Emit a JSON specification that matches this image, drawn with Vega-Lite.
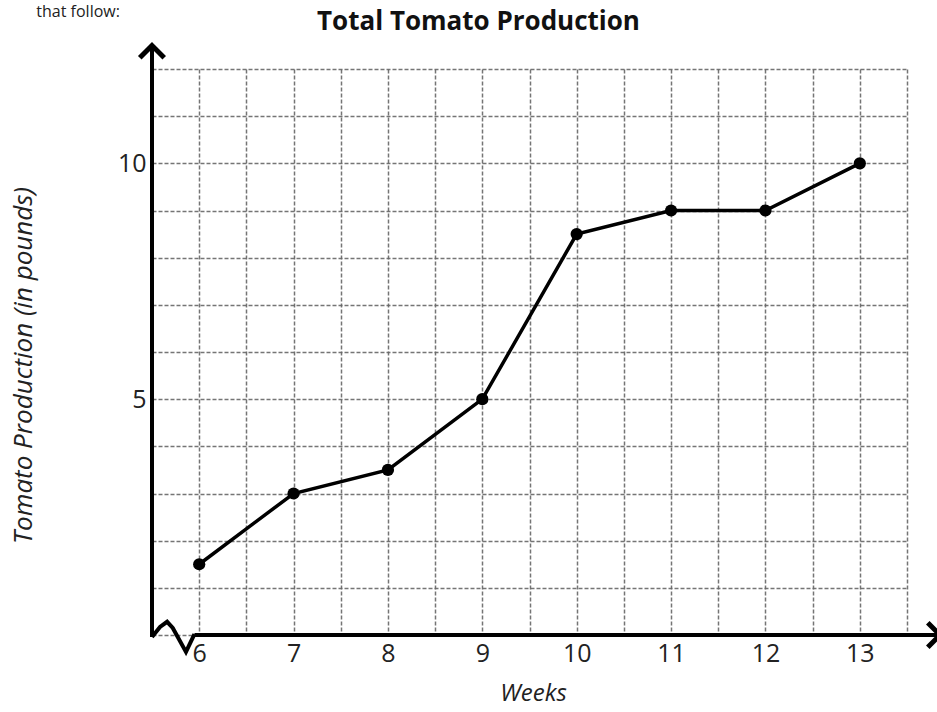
{
  "$schema": "https://vega.github.io/schema/vega-lite/v6.json",
  "autosize": "none",
  "width": 755,
  "height": 566,
  "padding": {"left": 152, "top": 69, "right": 30, "bottom": 77},
  "background": "white",
  "config": {
    "view": {"stroke": null},
    "font": "Open Sans",
    "title": {"font": "Open Sans", "fontSize": 26, "fontWeight": "bold", "color": "#111", "dx": -51, "offset": -31}
  },
  "title": "Total Tomato Production",
  "datasets": {
    "tomato": [
      {"week": 6, "pounds": 1.5},
      {"week": 7, "pounds": 3.0},
      {"week": 8, "pounds": 3.5},
      {"week": 9, "pounds": 5.0},
      {"week": 10, "pounds": 8.5},
      {"week": 11, "pounds": 9.0},
      {"week": 12, "pounds": 9.0},
      {"week": 13, "pounds": 10.0}
    ],
    "axisbreak": [
      {"order": 1, "week": 5.5, "pounds": -0.04},
      {"order": 2, "week": 5.585, "pounds": 0.17},
      {"order": 3, "week": 5.66, "pounds": 0.28},
      {"order": 4, "week": 5.72, "pounds": 0.15},
      {"order": 5, "week": 5.86, "pounds": -0.36},
      {"order": 6, "week": 5.95, "pounds": 0.02}
    ],
    "one": [{}]
  },
  "layer": [
    {
      "data": {"name": "tomato"},
      "mark": {"type": "line", "color": "black", "strokeWidth": 3.5},
      "encoding": {
        "x": {
          "field": "week", "type": "quantitative",
          "scale": {"domain": [5.5, 13.5], "nice": false, "zero": false},
          "axis": {
            "values": [5.5, 6, 6.5, 7, 7.5, 8, 8.5, 9, 9.5, 10, 10.5, 11, 11.5, 12, 12.5, 13, 13.5],
            "labelExpr": "datum.value % 1 == 0 && datum.value > 5.5 ? format(datum.value, 'd') : ''",
            "domain": false, "ticks": false,
            "grid": true, "gridColor": "#666", "gridDash": [4, 2], "gridWidth": 1.5, "gridOpacity": 0.9,
            "labelFont": "Open Sans", "labelFontSize": 25, "labelColor": "#222", "labelPadding": 6,
            "title": "Weeks", "titleFont": "Open Sans", "titleFontSize": 24, "titleFontStyle": "italic", "titleFontWeight": "normal", "titleColor": "#222",
            "titleX": 381, "titleY": 58, "titleBaseline": "middle"
          }
        },
        "y": {
          "field": "pounds", "type": "quantitative",
          "scale": {"domain": [0, 12], "nice": false},
          "axis": {
            "values": [0, 1, 2, 3, 4, 5, 6, 7, 8, 9, 10, 11, 12],
            "labelExpr": "datum.value == 5 || datum.value == 10 ? format(datum.value, 'd') : ''",
            "domain": false, "ticks": false,
            "grid": true, "gridColor": "#666", "gridDash": [4, 2], "gridWidth": 1.5, "gridOpacity": 0.9,
            "labelFont": "Open Sans", "labelFontSize": 25, "labelColor": "#222", "labelPadding": 6,
            "title": "Tomato Production (in pounds)", "titleFont": "Open Sans", "titleFontSize": 26, "titleFontStyle": "italic", "titleFontWeight": "normal", "titleColor": "#222",
            "titleX": -129, "titleY": 296, "titleBaseline": "middle", "titleAngle": -90
          }
        }
      }
    },
    {
      "data": {"name": "tomato"},
      "mark": {"type": "point", "filled": true, "color": "black", "size": 150, "opacity": 1},
      "encoding": {
        "x": {"field": "week", "type": "quantitative"},
        "y": {"field": "pounds", "type": "quantitative"}
      }
    },
    {
      "data": {"name": "axisbreak"},
      "mark": {"type": "line", "color": "black", "strokeWidth": 4, "strokeJoin": "miter"},
      "encoding": {
        "x": {"field": "week", "type": "quantitative"},
        "y": {"field": "pounds", "type": "quantitative"},
        "order": {"field": "order"}
      }
    },
    {
      "data": {"name": "one"},
      "mark": {"type": "rule", "color": "black", "strokeWidth": 4},
      "encoding": {
        "x": {"datum": 5.5},
        "y": {"datum": -0.04},
        "y2": {"datum": 12.45}
      }
    },
    {
      "data": {"name": "one"},
      "mark": {"type": "rule", "color": "black", "strokeWidth": 4},
      "encoding": {
        "x": {"datum": 5.95},
        "x2": {"datum": 13.82},
        "y": {"datum": 0}
      }
    },
    {
      "data": {"name": "one"},
      "mark": {"type": "point", "shape": "M -1 1 L 0 0 L 1 1", "filled": false, "stroke": "black", "strokeWidth": 5, "strokeJoin": "miter", "size": 600, "opacity": 1},
      "encoding": {
        "x": {"datum": 5.5},
        "y": {"datum": 12.5}
      }
    },
    {
      "data": {"name": "one"},
      "mark": {"type": "point", "shape": "M -1 -1 L 0 0 L -1 1", "filled": false, "stroke": "black", "strokeWidth": 5, "strokeJoin": "miter", "size": 600, "opacity": 1},
      "encoding": {
        "x": {"datum": 13.85},
        "y": {"datum": 0}
      }
    },
    {
      "data": {"name": "one"},
      "mark": {"type": "text", "text": "that follow:", "align": "right", "baseline": "top", "font": "Open Sans", "fontSize": 16, "color": "#222"},
      "encoding": {
        "x": {"datum": 5.16},
        "y": {"datum": 13.38}
      }
    }
  ]
}
